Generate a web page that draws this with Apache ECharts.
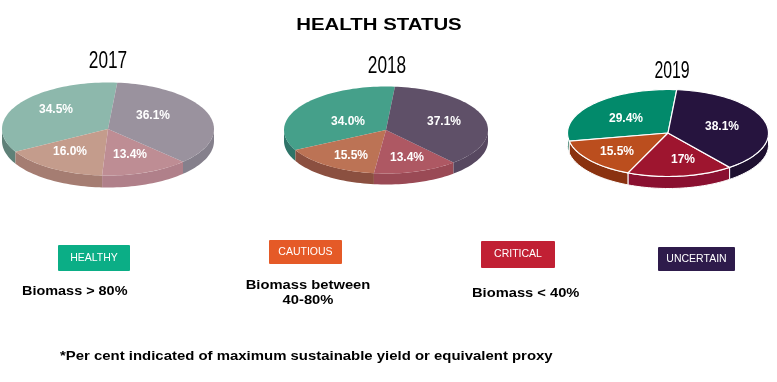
<!DOCTYPE html>
<html>
<head>
<meta charset="utf-8">
<style>html,body{margin:0;padding:0;background:#fff}#container{width:777px;height:382px}</style>
<script src="https://cdn.jsdelivr.net/npm/echarts@6/dist/echarts.min.js"></script>
</head>
<body>
<div id="container"></div>
<script>
// order is the legend order, slices run anticlockwise from just right of the top
var categories = ['HEALTHY', 'CAUTIOUS', 'CRITICAL', 'UNCERTAIN'];
var years = ['2017', '2018', '2019'];
var values2017 = [34.5, 16.0, 13.4, 36.1];
var values2018 = [34.0, 15.5, 13.4, 37.1];
var values2019 = [29.4, 15.5, 17, 38.1];
var labels2017 = ['34.5%', '16.0%', '13.4%', '36.1%'];
var labels2018 = ['34.0%', '15.5%', '13.4%', '37.1%'];
var labels2019 = ['29.4%', '15.5%', '17%', '38.1%'];
var biomassNotes = ['Biomass > 80%', 'Biomass between', '40-80%', 'Biomass < 40%'];
var footnote = '*Per cent indicated of maximum sustainable yield or equivalent proxy';

var legendColors = ['#0bae86', '#e55a27', '#c12034', '#2e1b4b'];

var pies = [
    {
        name: years[0], values: values2017, labels: labels2017,
        cx: 108, cy: 129, rx: 106, ry: 46.5, depth: 12, border: 'rgba(0,0,0,0)',
        colors: ['#8db8ac', '#c49c8c', '#be8d94', '#9a929e'],
        walls: ['#5f8178', '#a57d72', '#b0808a', '#85808c'],
        labelPos: [[56, 110], [70, 152], [130, 155], [153, 116]],
        yearPos: [108, 61], yearScale: 0.72
    },
    {
        name: years[1], values: values2018, labels: labels2018,
        cx: 386, cy: 130, rx: 102, ry: 43.5, depth: 11, border: 'rgba(0,0,0,0)',
        colors: ['#45a08a', '#bc7355', '#ae5863', '#5f5068'],
        walls: ['#2e7468', '#8b5040', '#9a4a55', '#574860'],
        labelPos: [[348, 122], [351, 156], [407, 158], [444, 122]],
        yearPos: [387, 66], yearScale: 0.72
    },
    {
        name: years[2], values: values2019, labels: labels2019,
        cx: 668, cy: 133, rx: 100.5, ry: 43.5, depth: 12, border: '#ffffff',
        colors: ['#028a6b', '#bb4e1e', '#9e152f', '#26143e'],
        walls: ['#0a5f4a', '#8a3210', '#8a1030', '#1e1030'],
        labelPos: [[626, 119], [617, 152], [683, 160], [722, 127]],
        yearPos: [672, 71], yearScale: 0.66
    }
];

var START_ANGLE = 5; // degrees clockwise from the top

function arcPoint(pie, deg, dy) {
    var a = (deg - 90) * Math.PI / 180;
    return [pie.cx + pie.rx * Math.cos(a), pie.cy + pie.ry * Math.sin(a) + dy];
}

function makeRender(pie) {
    return function (params, api) {
        var i = params.dataIndex;
        var before = 0;
        for (var k = 0; k < i; k++) before += pie.values[k];
        var from = START_ANGLE - before * 3.6;
        var to = from - api.value(0) * 3.6;
        var children = [];

        // side wall, only where the rim faces the viewer (90..270 from top)
        var lo = Math.max(to, -270), hi = Math.min(from, -90);
        if (hi > lo) {
            var wall = [];
            for (var d = lo; d <= hi; d += 2) wall.push(arcPoint(pie, d, 0));
            wall.push(arcPoint(pie, hi, 0), arcPoint(pie, hi, pie.depth));
            for (var d2 = hi; d2 >= lo; d2 -= 2) wall.push(arcPoint(pie, d2, pie.depth));
            wall.push(arcPoint(pie, lo, pie.depth));
            children.push({
                type: 'polygon', shape: { points: wall }, z2: 1,
                style: { fill: pie.walls[i], stroke: pie.border, lineWidth: 1 }
            });
        }

        var face = [[pie.cx, pie.cy]];
        for (var t = from; t >= to; t -= 2) face.push(arcPoint(pie, t, 0));
        face.push(arcPoint(pie, to, 0));
        children.push({
            type: 'polygon', shape: { points: face }, z2: 2,
            style: { fill: pie.colors[i], stroke: pie.border, lineWidth: 1.2 }
        });

        children.push({
            type: 'text', x: pie.labelPos[i][0], y: pie.labelPos[i][1], z2: 5,
            style: {
                text: pie.labels[i], fill: '#fff', align: 'center', verticalAlign: 'middle',
                font: 'bold 12px "Liberation Sans", Arial, sans-serif'
            }
        });
        return { type: 'group', children: children };
    };
}

var series = pies.map(function (pie) {
    return {
        type: 'custom',
        name: pie.name,
        coordinateSystem: 'none',
        silent: true,
        renderItem: makeRender(pie),
        data: pie.values.map(function (v, i) { return { name: categories[i], value: v }; })
    };
});

function boldText(text, x, y, scaleX, align, size) {
    return {
        type: 'text', x: x, y: y, scaleX: scaleX,
        style: {
            text: text, fill: '#000', align: align || 'left', verticalAlign: 'middle',
            font: 'bold ' + (size || 13) + 'px "Liberation Sans", Arial, sans-serif'
        }
    };
}

var graphics = [];
pies.forEach(function (pie) {
    graphics.push({
        type: 'text', x: pie.yearPos[0], y: pie.yearPos[1], scaleX: pie.yearScale,
        style: {
            text: pie.name, fill: '#000', align: 'center', verticalAlign: 'middle',
            font: '24px "Liberation Sans", Arial, sans-serif'
        }
    });
});

var legendBoxes = [[58, 245, 72, 26], [269, 240, 73, 24], [481, 241, 74, 27], [658, 247, 77, 24]];
categories.forEach(function (name, i) {
    var b = legendBoxes[i];
    graphics.push({
        type: 'rect', shape: { x: b[0], y: b[1], width: b[2], height: b[3], r: 1 },
        style: { fill: legendColors[i] }
    });
    graphics.push({
        type: 'text', x: b[0] + b[2] / 2, y: b[1] + b[3] / 2,
        style: {
            text: name, fill: '#fff', align: 'center', verticalAlign: 'middle',
            font: '10.5px "Liberation Sans", Arial, sans-serif'
        }
    });
});

graphics.push(boldText(biomassNotes[0], 22, 291, 1.11));
graphics.push(boldText(biomassNotes[1], 308, 285, 1.135, 'center'));
graphics.push(boldText(biomassNotes[2], 308, 300, 1.135, 'center'));
graphics.push(boldText(biomassNotes[3], 472, 293, 1.13));
graphics.push(boldText(footnote, 60, 356, 1.148));
graphics.push(boldText('HEALTH STATUS', 379, 25, 1.2, 'center', 17));

var myChart = echarts.init(document.getElementById('container'), null, { renderer: 'canvas' });
myChart.setOption({
    animation: false,
    backgroundColor: '#fff',
    graphic: { elements: graphics },
    series: series
});
</script>
</body>
</html>
